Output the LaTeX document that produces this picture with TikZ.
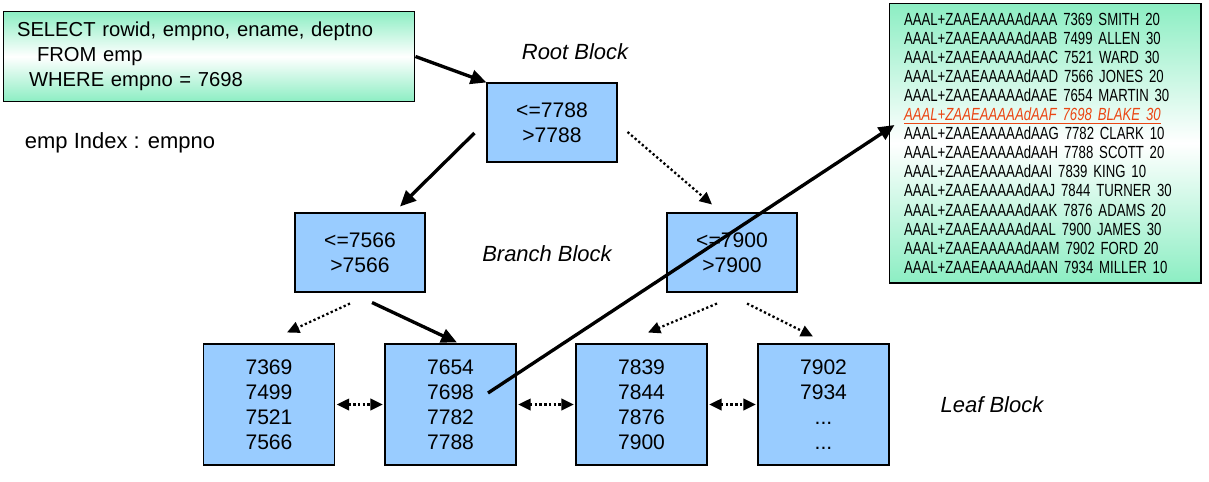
\documentclass[tikz,border=0pt]{standalone}
\usepackage{fontspec}
\setmainfont{Liberation Sans}
\newfontfamily\rowfont[FakeStretch=0.75]{Liberation Sans}
\usetikzlibrary{arrows.meta,calc}
\definecolor{blkblue}{RGB}{153,204,255}
\definecolor{mint}{RGB}{140,238,195}
\definecolor{hilite}{RGB}{235,70,20}

\begin{document}
\begin{tikzpicture}[x=0.02cm,y=0.02cm,
    blk/.style={draw,line width=0.6pt,fill=blkblue,align=center,inner sep=0pt,
        font=\fontsize{12}{14.2}\selectfont},
    note/.style={draw,line width=0.6pt,top color=mint,bottom color=mint,middle color=white,
        align=left,inner ysep=0pt},
    lbl/.style={font=\fontsize{12.5}{15}\selectfont\itshape},
    boldarr/.style={line width=1.9pt,-{Triangle[length=9pt,width=8pt]}},
    dotarr/.style={line width=1.3pt,dash pattern=on 1.3pt off 1.4pt,-{Triangle[length=7pt,width=6.5pt]}},
    dotboth/.style={line width=1.3pt,dash pattern=on 1.3pt off 1.4pt,{Triangle[length=7pt,width=6.5pt]}-{Triangle[length=7pt,width=6.5pt]},shorten <=1pt,shorten >=1pt},
]
    \useasboundingbox (0,0) rectangle (1209,-481);

    % SQL 문장
    \node[note,minimum width=8.24cm,minimum height=1.8cm,inner xsep=0.28cm,text width=7.68cm,
        font=\fontsize{11.5}{14.2}\selectfont] (sql) at (209,-56.5)
        {SELECT rowid, empno, ename, deptno\\
         \hspace*{0.4cm}FROM emp\\
         \hspace*{0.24cm}WHERE empno = 7698};
    \node[font=\fontsize{12.5}{15}\selectfont] (idx) at (120,-143) {emp Index : empno};

    % 테이블 rowid 목록
    \node[note,minimum width=6.24cm,minimum height=5.6cm,inner xsep=0.3cm,text width=5.64cm,
        font=\rowfont\fontsize{10}{10.85}\selectfont] (rows) at (1045,-143)
        {AAAL+ZAAEAAAAAdAAA 7369 SMITH 20\\
         AAAL+ZAAEAAAAAdAAB 7499 ALLEN 30\\
         AAAL+ZAAEAAAAAdAAC 7521 WARD 30\\
         AAAL+ZAAEAAAAAdAAD 7566 JONES 20\\
         AAAL+ZAAEAAAAAdAAE 7654 MARTIN 30\\
         {\color{hilite}\itshape\underline{AAAL+ZAAEAAAAAdAAF 7698 BLAKE 30}}\\
         AAAL+ZAAEAAAAAdAAG 7782 CLARK 10\\
         AAAL+ZAAEAAAAAdAAH 7788 SCOTT 20\\
         AAAL+ZAAEAAAAAdAAI 7839 KING 10\\
         AAAL+ZAAEAAAAAdAAJ 7844 TURNER 30\\
         AAAL+ZAAEAAAAAdAAK 7876 ADAMS 20\\
         AAAL+ZAAEAAAAAdAAL 7900 JAMES 30\\
         AAAL+ZAAEAAAAAdAAM 7902 FORD 20\\
         AAAL+ZAAEAAAAAdAAN 7934 MILLER 10};

    % Root / Branch 블록
    \node[blk,minimum width=2.6cm,minimum height=1.58cm] (root) at (552,-122.5) {<=7788\\>7788};
    \node[blk,minimum width=2.6cm,minimum height=1.58cm] (branchL) at (360,-252.5) {<=7566\\>7566};
    \node[blk,minimum width=2.6cm,minimum height=1.58cm] (branchR) at (732,-252.5) {<=7900\\>7900};

    % Leaf 블록
    \node[blk,minimum width=2.62cm,minimum height=2.42cm] (leaf1) at (269,-404.5) {7369\\7499\\7521\\7566};
    \node[blk,minimum width=2.62cm,minimum height=2.42cm] (leaf2) at (450.5,-404.5) {7654\\7698\\7782\\7788};
    \node[blk,minimum width=2.62cm,minimum height=2.42cm] (leaf3) at (641.5,-404.5) {7839\\7844\\7876\\7900};
    \node[blk,minimum width=2.62cm,minimum height=2.42cm] (leaf4) at (823.5,-404.5) {7902\\7934\\...\\...};

    % 블록 이름
    \node[lbl] (rootlbl) at (575,-52) {Root Block};
    \node[lbl] (branchlbl) at (547,-254) {Branch Block};
    \node[lbl] (leaflbl) at (992,-405) {Leaf Block};

    % 탐색 경로
    \draw[boldarr] (sql.east) -- (root.north west);
    \draw[boldarr] ($(root.west)+(-12,-10.5)$) -- ($(branchL.north)+(40,6)$);
    \draw[dotarr] ($(root.east)+(10,-9.5)$) -- ($(branchR.north)+(-20,8)$);
    \draw[dotarr] ($(branchL.south)+(-10,-11)$) -- ($(leaf1.north)+(18,11)$);
    \draw[boldarr] ($(branchL.south)+(12,-10)$) -- ($(leaf2.north)+(6.5,1)$);
    \draw[dotarr] ($(branchR.south)+(-15,-11)$) -- ($(leaf3.north)+(6.5,11)$);
    \draw[dotarr] ($(branchR.south)+(15,-11)$) -- ($(leaf4.north)+(-10.5,7)$);

    % Leaf 사이 연결
    \draw[dotboth] (leaf1.east) -- (leaf2.west);
    \draw[dotboth] (leaf2.east) -- (leaf3.west);
    \draw[dotboth] (leaf3.east) -- (leaf4.west);

    % rowid 로 테이블 접근
    \draw[boldarr] ($(leaf2.center)+(37.5,11.5)$) -- ($(rows.west)+(6,18)$);
\end{tikzpicture}
\end{document}
